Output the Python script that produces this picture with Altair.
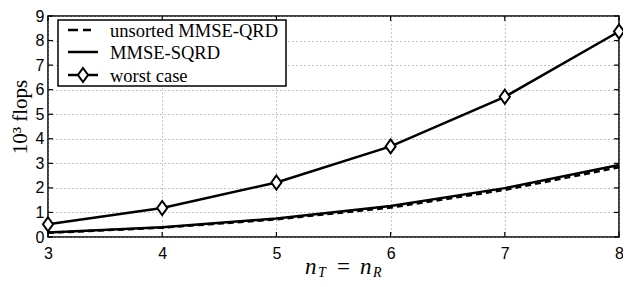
import altair as alt
import pandas as pd

# ---- data ----
n_values = [3, 4, 5, 6, 7, 8]
unsorted_qrd = [0.17, 0.38, 0.72, 1.20, 1.92, 2.84]
mmse_sqrd = [0.18, 0.40, 0.75, 1.26, 1.99, 2.93]
worst_case = [0.52, 1.18, 2.22, 3.69, 5.71, 8.37]
x_ticks = [3, 4, 5, 6, 7, 8]
y_ticks = [0, 1, 2, 3, 4, 5, 6, 7, 8, 9]
legend_labels = ["unsorted MMSE-QRD", "MMSE-SQRD", "worst case"]

W, H = 571, 221
SERIF = "Liberation Serif, Times New Roman, Times, serif"
SANS = "Liberation Sans, Arial, Helvetica, sans-serif"
DIAMOND = "M0,-1L0.72,0L0,1L-0.72,0Z"

df = pd.DataFrame({"n": n_values, "unsorted": unsorted_qrd,
                   "sqrd": mmse_sqrd, "worst": worst_case})
xt = pd.DataFrame({"t": x_ticks})
yt = pd.DataFrame({"t": y_ticks})
one = pd.DataFrame({"a": [0]})

xs = alt.Scale(domain=[3, 8], nice=False, zero=False)
ys = alt.Scale(domain=[0, 9], nice=False, zero=False)

x_axis = alt.Axis(values=x_ticks, grid=True, gridDash=[1, 3], gridColor="#888",
                  gridWidth=1, ticks=False, domain=False, labelFont=SANS,
                  labelFontSize=16, labelColor="black", labelPadding=8,
                  labelOverlap=False, labelFlush=False, title=None, format="d")
y_axis = alt.Axis(values=y_ticks, grid=True, gridDash=[1, 3], gridColor="#888",
                  gridWidth=1, ticks=False, domain=False, labelFont=SANS,
                  labelFontSize=16, labelColor="black", labelPadding=4,
                  labelOverlap=False, labelFlush=False, title=None, format="d")


def X(f):
    return alt.X(f, scale=xs, axis=x_axis)


def Y(f):
    return alt.Y(f, scale=ys, axis=y_axis)


base = alt.Chart(df)

line_sqrd = base.mark_line(color="black", strokeWidth=2.5).encode(
    x=X("n:Q"), y=Y("sqrd:Q"))
line_unsorted = base.mark_line(color="black", strokeWidth=2.5, strokeDash=[6, 4]).encode(
    x=X("n:Q"), y=Y("unsorted:Q"))
line_worst = base.mark_line(color="black", strokeWidth=2.5).encode(
    x=X("n:Q"), y=Y("worst:Q"))
pts_worst = base.mark_point(shape=DIAMOND, size=196, filled=True, fill="white",
                            stroke="black", strokeWidth=2, opacity=1).encode(
    x=X("n:Q"), y=Y("worst:Q"))

# inward ticks on all four sides
tick_style = dict(color="black", strokeWidth=1.2)
tb = alt.Chart(xt).mark_rule(**tick_style).encode(
    x=X("t:Q"), y=alt.value(H), y2=alt.value(H - 5))
tt = alt.Chart(xt).mark_rule(**tick_style).encode(
    x=X("t:Q"), y=alt.value(0), y2=alt.value(5))
tl = alt.Chart(yt).mark_rule(**tick_style).encode(
    y=Y("t:Q"), x=alt.value(0), x2=alt.value(5))
tr = alt.Chart(yt).mark_rule(**tick_style).encode(
    y=Y("t:Q"), x=alt.value(W), x2=alt.value(W - 5))

# legend box (view coordinates)
leg_box = alt.Chart(one).mark_rect(fill="white", stroke="black", strokeWidth=1.5).encode(
    x=alt.value(10), x2=alt.value(238), y=alt.value(4), y2=alt.value(70))
leg_rows = [14, 36, 59]
leg_l1 = alt.Chart(one).mark_rule(color="black", strokeWidth=2.5, strokeDash=[10, 5]).encode(
    x=alt.value(20), x2=alt.value(43), y=alt.value(leg_rows[0]))
leg_l2 = alt.Chart(one).mark_rule(color="black", strokeWidth=2.5).encode(
    x=alt.value(20), x2=alt.value(50), y=alt.value(leg_rows[1]))
leg_l3 = alt.Chart(one).mark_rule(color="black", strokeWidth=2.5).encode(
    x=alt.value(20), x2=alt.value(50), y=alt.value(leg_rows[2]))
leg_p3 = alt.Chart(one).mark_point(shape=DIAMOND, size=196, filled=True, fill="white",
                                   stroke="black", strokeWidth=2, opacity=1).encode(
    x=alt.value(35), y=alt.value(leg_rows[2]))
leg_texts = [
    alt.Chart(one).mark_text(text=lab, font=SERIF, fontSize=18.5, align="left",
                             baseline="middle", color="black").encode(
        x=alt.value(62), y=alt.value(yy + 1))
    for lab, yy in zip(legend_labels, leg_rows)
]

# axis titles
ytitle = alt.Chart(one).mark_text(text="10³ flops", font=SERIF, fontSize=21, angle=270,
                                  align="center", baseline="middle", color="black").encode(
    x=alt.value(-27), y=alt.value(101))


def piece(txt, x, y, size, italic=True):
    return alt.Chart(one).mark_text(text=txt, font=SERIF, fontSize=size,
                                    fontStyle="italic" if italic else "normal",
                                    align="left", baseline="alphabetic",
                                    color="black").encode(x=alt.value(x), y=alt.value(y))


xtitle = [
    piece("n", 257, 258, 23),
    piece("T", 270, 261, 14),
    piece("=", 289, 258, 23, italic=False),
    piece("n", 312, 258, 23),
    piece("R", 325, 261, 14),
]

chart = alt.layer(
    tb, tt, tl, tr,
    line_sqrd, line_unsorted, line_worst, pts_worst,
    leg_box, leg_l1, leg_l2, leg_l3, leg_p3, *leg_texts,
    ytitle, *xtitle,
).properties(
    width=W, height=H,
    padding={"left": 40, "top": 8, "right": 4, "bottom": 42},
    autosize=alt.AutoSizeParams(type="none"),
    background="white",
).configure_view(stroke="black", strokeWidth=1.5)

chart.save("out.html", embed_options={"renderer": "svg", "actions": False})
